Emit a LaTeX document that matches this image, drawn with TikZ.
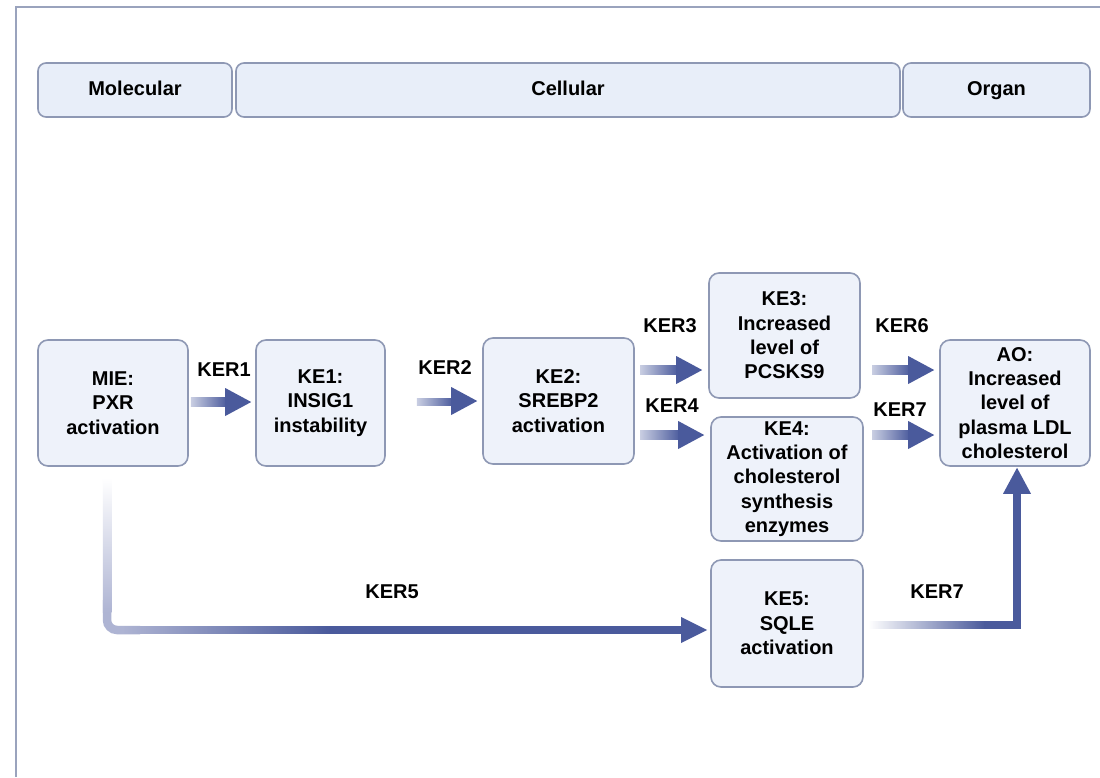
\documentclass[tikz,border=0pt]{standalone}
\usepackage{fontspec}
\setmainfont{Liberation Sans}
\usetikzlibrary{calc,fadings}
\definecolor{boxfill}{HTML}{EEF2FA}
\definecolor{boxline}{HTML}{8E98B4}
\definecolor{hdrfill}{HTML}{E8EEF9}
\definecolor{frameline}{HTML}{9AA3BD}
\definecolor{ardark}{HTML}{4A5A9C}
\definecolor{arlight}{HTML}{C9CEE2}
\definecolor{armid}{HTML}{AEB4D3}
\newcommand\hgarrow[2]{%
  \shade[left color=arlight, right color=ardark] ($(#1)+(0,-4.5)$) rectangle ($(#2)+(-24,4.5)$);
  \fill[ardark] ($(#2)+(-26,-14)$) -- (#2) -- ($(#2)+(-26,14)$) -- cycle;}
\tikzset{
  txt/.style={font=\bfseries\fontsize{20}{24.4}\selectfont, align=center, text=black},
  evbox/.style={txt, draw=boxline, fill=boxfill, line width=1.6pt, rounded corners=10pt, inner sep=0pt},
  hdr/.style={txt, draw=boxline, fill=hdrfill, line width=1.6pt, rounded corners=8pt, inner sep=0pt, minimum height=54pt, text height=14.5pt, text depth=4pt},
  lbl/.style={txt, inner sep=1pt}
}
\begin{document}
\begin{tikzpicture}[x=1pt,y=-1pt]
\useasboundingbox[fill=white] (0,0) rectangle (1100,777);
% frame
\coordinate (fa) at (16,777);
\coordinate (fb) at (16,7);
\coordinate (fc) at (1100,7);
\draw[frameline, line width=2pt] (fa) -- (fb) -- (fc);
% headers
\node[hdr, minimum width=194pt] (hm) at (135,90) {Molecular};
\node[hdr, minimum width=664pt] (hc) at (568,90) {Cellular};
\node[hdr, minimum width=187pt] (ho) at (996.5,90) {Organ};
% boxes
\node[evbox, minimum width=150pt, minimum height=126pt] (mie) at (113,403) {MIE:\\PXR\\activation};
\node[evbox, minimum width=129pt, minimum height=126pt] (ke1) at (320.5,403) {KE1:\\INSIG1\\instability};
\node[evbox, minimum width=151pt, minimum height=126pt] (ke2) at (558.5,401) {KE2:\\SREBP2\\activation};
\node[evbox, minimum width=151pt, minimum height=125pt] (ke3) at (784.5,335.5) {KE3:\\Increased\\level of\\PCSKS9};
\node[evbox, minimum width=152pt, minimum height=124pt] (ke4) at (787,479) {KE4:\\Activation of\\cholesterol\\synthesis\\enzymes};
\node[evbox, minimum width=150pt, minimum height=126pt] (ao) at (1015,403) {AO:\\Increased\\level of\\plasma LDL\\cholesterol};
\node[evbox, minimum width=152pt, minimum height=127pt] (ke5) at (787,623.5) {KE5:\\SQLE\\activation};
% labels
\node[lbl] (l1) at (224,370) {KER1};
\node[lbl] (l2) at (445,368) {KER2};
\node[lbl] (l3) at (670,326) {KER3};
\node[lbl] (l4) at (672,406) {KER4};
\node[lbl] (l6) at (902,326) {KER6};
\node[lbl] (l7) at (900,410) {KER7};
\node[lbl] (l5) at (392,592) {KER5};
\node[lbl] (l7b) at (937,592) {KER7};
% straight arrows
\coordinate (a1s) at ($(mie.east)+(2,-1)$);   \coordinate (a1e) at ($(ke1.west)+(-4,-1)$);
\coordinate (a2s) at ($(ke1.east)+(31,0)$);   \coordinate (a2e) at ($(ke2.west)+(-5,0)$);
\coordinate (a3s) at (640,370);               \coordinate (a3e) at ($(ke3.west)+(-6,34.5)$);
\coordinate (a4s) at (640,435);               \coordinate (a4e) at ($(ke4.west)+(-6,-44)$);
\coordinate (a6s) at (872,370);               \coordinate (a6e) at ($(ao.west)+(-5,-33)$);
\coordinate (a7s) at (872,435);               \coordinate (a7e) at ($(ao.west)+(-5,32)$);
\hgarrow{a1s}{a1e}
\hgarrow{a2s}{a2e}
\hgarrow{a3s}{a3e}
\hgarrow{a4s}{a4e}
\hgarrow{a6s}{a6e}
\hgarrow{a7s}{a7e}
% KER5: MIE -> KE5
\coordinate (k5a) at (107,478);
\coordinate (k5b) at (107,630);
\coordinate (k5e) at ($(ke5.west)+(-3,6.5)$);
\draw[armid, line width=8.5pt, rounded corners=10pt] (107,600) -- (k5b) -- (140,630);
\shade[top color=white, bottom color=armid] ($(k5a)+(-4.25,0)$) rectangle (111.25,612);
\fill[ardark] (124,625.75) rectangle ($(k5e)+(-24,4.25)$);
\fill[armid, path fading=east] (123,625.75) rectangle (330,634.25);
\fill[ardark] ($(k5e)+(-26,-13)$) -- (k5e) -- ($(k5e)+(-26,13)$) -- cycle;
% KER7: KE5 -> AO
\coordinate (k7a) at ($(ke5.east)+(5,1.5)$);
\coordinate (k7b) at (1017,625);
\coordinate (k7e) at ($(ao.south)+(2,1)$);
\fill[ardark, path fading=west] ($(k7a)+(0,-4.25)$) rectangle (985,629.25);
\fill[ardark] (984,620.75) rectangle (1021.25,629.25);
\fill[ardark] (1012.75,629.25) rectangle (1021.25,490);
\fill[ardark] ($(k7e)+(-14,26)$) -- (k7e) -- ($(k7e)+(14,26)$) -- cycle;
\end{tikzpicture}
\end{document}
